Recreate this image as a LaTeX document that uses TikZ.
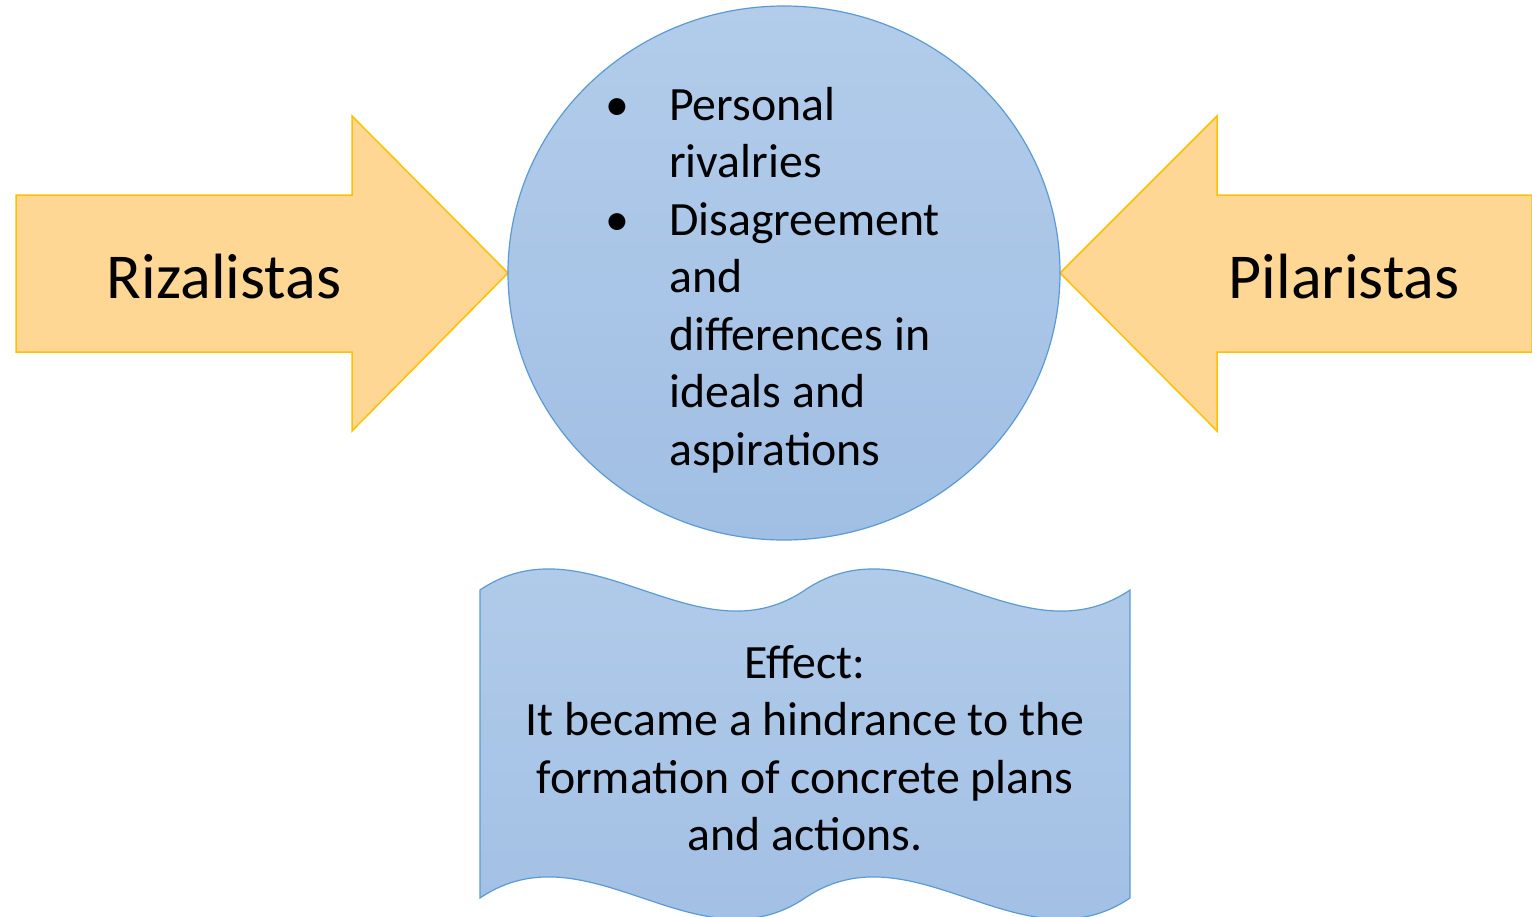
\documentclass[tikz,border=0pt]{standalone}
\usepackage{fontspec}
\setmainfont{Carlito}
\usetikzlibrary{shapes}

\definecolor{orangefill}{HTML}{FED795}
\definecolor{orangeline}{HTML}{FFC000}
\definecolor{bluetop}{HTML}{B2CCEA}
\definecolor{bluebot}{HTML}{A1BFE4}
\definecolor{blueline}{HTML}{5B9BD5}

\newcommand{\dotmark}{\makebox[52pt][l]{\makebox[0pt]{\textbullet}}}

\begin{document}
\begin{tikzpicture}[x=1pt, y=-1pt]
\tikzstyle{pointer} = [draw=orangeline, fill=orangefill, line width=1.5pt, line join=miter]
\tikzstyle{side} = [font=\fontsize{64}{77}\selectfont, inner sep=0pt]
\tikzstyle{bubble} = [ellipse, draw=blueline, line width=1.2pt,
    top color=bluetop, bottom color=bluebot,
    minimum width=552pt, minimum height=534pt, inner sep=0pt]
\tikzstyle{body} = [font=\fontsize{47.8}{57.5}\selectfont, inner sep=0pt]
\tikzstyle{banner} = [draw=blueline, line width=1.2pt, top color=bluetop, bottom color=bluebot]

 \useasboundingbox (0,0) rectangle (1532,916);

 % the two block arrows
 \path [pointer] (16,195) -- (352,195) -- (352,116) -- (508,273)
    -- (352,431) -- (352,352) -- (16,352) -- cycle;
 \path [pointer] (1532,195) -- (1217,195) -- (1217,116) -- (1060,273)
    -- (1217,431) -- (1217,352) -- (1532,352) -- cycle;

 % wavy effect box
 \path [banner] (480,590) .. controls (588,517) and (697,663) .. (805,590)
    .. controls (913,517) and (1022,663) .. (1130,590) -- (1130,898)
    .. controls (1022,971) and (913,825) .. (805,898)
    .. controls (697,971) and (588,825) .. (480,898) -- cycle;

 \node [bubble] (issues) at (784,273) {};

 \node [side, left of=issues, node distance=560pt, yshift=-4pt] (rizal) {Rizalistas};
 \node [side, right of=issues, node distance=560pt, yshift=-4pt] (pilar) {Pilaristas};

 \node [body, anchor=north west] (points) at (617,80) {%
    \begin{tabular}{@{}l@{}l@{}}
    \dotmark & Personal\\
             & rivalries\\
    \dotmark & Disagreement\\
             & and\\
             & differences in\\
             & ideals and\\
             & aspirations
    \end{tabular}};

 \node [body, align=center, below of=issues, node distance=475pt, xshift=21pt] (effect)
    {Effect:\\It became a hindrance to the\\formation of concrete plans\\and actions.};
\end{tikzpicture}
\end{document}
